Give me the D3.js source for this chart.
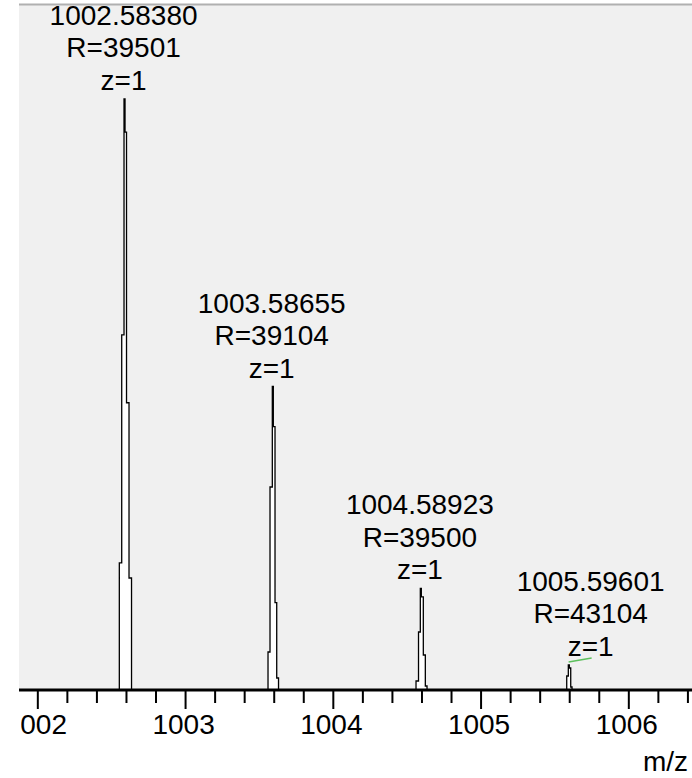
<!DOCTYPE html>
<html>
<head>
<meta charset="utf-8">
<script src="https://cdn.jsdelivr.net/npm/d3@7"></script>
<style>
  html, body { margin: 0; padding: 0; background: #ffffff; }
  svg { display: block; }
  text { font-family: "Liberation Sans", Arial, sans-serif; fill: #000; }
</style>
</head>
<body>
<svg id="chart" width="692" height="778"></svg>
<script>
// ---- data ----
// profile spectrum: m/z and relative intensity (stair-step profile points)
const profileMz = [
  1001.876,
  1002.5550, 1002.5712, 1002.5868, 1002.5936, 1002.6037, 1002.6206, 1002.6376,
  1003.5614, 1003.5749, 1003.5905, 1003.5973, 1003.6088, 1003.6203, 1003.6325,
  1004.5631, 1004.5800, 1004.5922, 1004.5990, 1004.6125, 1004.6261, 1004.6376,
  1005.5831, 1005.5939, 1005.6007, 1005.6102, 1005.6190,
  1006.431
];
const profileInt = [
  0,
  21.5, 60.1, 100, 94.4, 48.6, 18.95, 0,
  6.43, 34.35, 51.35, 44.55, 14.8, 2.03, 0,
  1.52, 9.81, 17.21, 15.74, 5.92, 0.68, 0,
  2.37, 4.23, 3.72, 0.51, 0,
  0
];
// peak annotations
const labelMz = [1002.58380, 1003.58655, 1004.58923, 1005.59601];
const labelMzText = ["1002.58380", "1003.58655", "1004.58923", "1005.59601"];
const labelRes = ["R=39501", "R=39104", "R=39500", "R=43104"];
const labelCharge = ["z=1", "z=1", "z=1", "z=1"];
// axis ticks
const majorTicks = [1002, 1003, 1004, 1005, 1006];
const minorTicks = [1002.2, 1002.4, 1002.6, 1002.8, 1003.2, 1003.4, 1003.6, 1003.8,
  1004.2, 1004.4, 1004.6, 1004.8, 1005.2, 1005.4, 1005.6, 1005.8, 1006.2, 1006.4];
const xDomain = [1001.876, 1006.431];
const yDomain = [0, 116.07];
const xTitle = "m/z";

// ---- layout ----
const W = 692, H = 778;
const plot = { left: 19, right: 692, top: 4, bottom: 690 };
const FONT = 28;
const lineGap = 32.5;
const labelNudge = { 3: 22 }; // label moved aside to avoid overlap, with connector

const svg = d3.select("#chart");

const x = d3.scaleLinear().domain(xDomain).range([plot.left, plot.right]);
const y = d3.scaleLinear().domain(yDomain).range([plot.bottom, plot.top]);

const defs = svg.append("defs");
defs.append("clipPath").attr("id", "plotClip")
  .append("rect").attr("x", plot.left).attr("y", 0)
  .attr("width", plot.right - plot.left).attr("height", plot.bottom);
defs.append("clipPath").attr("id", "axisClip")
  .append("rect").attr("x", plot.left).attr("y", 0)
  .attr("width", plot.right - plot.left).attr("height", H);
defs.append("clipPath").attr("id", "labelClip")
  .append("rect").attr("x", plot.left + 2).attr("y", 0)
  .attr("width", plot.right - plot.left - 2).attr("height", H);

// plot background
svg.append("rect")
  .attr("x", plot.left).attr("y", plot.top)
  .attr("width", plot.right - plot.left).attr("height", plot.bottom - plot.top)
  .attr("fill", "#f0f0f0");
// top border
svg.append("line")
  .attr("x1", plot.left).attr("x2", plot.right)
  .attr("y1", plot.top + 0.5).attr("y2", plot.top + 0.5)
  .attr("stroke", "#b0b0b0").attr("stroke-width", 2);

// spectrum
const pts = profileMz.map((m, i) => [m, profileInt[i]]);
const g = svg.append("g").attr("clip-path", "url(#plotClip)");
g.append("path")
  .datum(pts)
  .attr("d", d3.area().x(d => x(d[0])).y0(y(0)).y1(d => y(d[1])).curve(d3.curveStepAfter))
  .attr("fill", "#ffffff");
g.append("path")
  .datum(pts)
  .attr("d", d3.line().x(d => x(d[0])).y(d => y(d[1])).curve(d3.curveStepAfter))
  .attr("fill", "none").attr("stroke", "#000").attr("stroke-width", 1.3);

// annotations
labelMz.forEach((m, i) => {
  const near = pts.filter(p => Math.abs(p[0] - m) < 0.06);
  const apex = d3.max(near, p => p[1]);
  const px = x(m), py = y(apex);
  const lx = px + (labelNudge[i] || 0);
  const zBase = py - 9;
  const lg = svg.append("g").attr("text-anchor", "middle").style("font-size", FONT + "px");
  lg.append("text").attr("x", lx).attr("y", zBase - 2 * lineGap).text(labelMzText[i]);
  lg.append("text").attr("x", lx).attr("y", zBase - lineGap).text(labelRes[i]);
  lg.append("text").attr("x", lx).attr("y", zBase).text(labelCharge[i]);
  if (labelNudge[i]) {
    svg.append("line")
      .attr("x1", px).attr("y1", py - 3)
      .attr("x2", lx + 1).attr("y2", zBase + 2)
      .attr("stroke", "#5cc05c").attr("stroke-width", 1.5);
  }
});

// x axis
const axG = svg.append("g").attr("clip-path", "url(#axisClip)");
const minorAxis = axG.append("g")
  .attr("transform", `translate(0,${plot.bottom})`)
  .call(d3.axisBottom(x).tickValues(minorTicks).tickSize(13).tickFormat(""));
minorAxis.select(".domain").remove();
const majorAxis = axG.append("g")
  .attr("transform", `translate(0,${plot.bottom})`)
  .call(d3.axisBottom(x).tickValues(majorTicks).tickSize(19).tickFormat(""));
majorAxis.select(".domain").remove();
axG.selectAll(".tick line").attr("stroke", "#000").attr("stroke-width", 2);

// tick labels (clipped at the left plot edge, as in the reference)
svg.append("g").attr("clip-path", "url(#labelClip)")
  .selectAll("text").data(majorTicks).join("text")
  .attr("x", d => x(d) - 1.5)
  .attr("y", plot.bottom + 44)
  .attr("text-anchor", "middle")
  .style("font-size", FONT + "px")
  .text(d3.format("d"));

// axis baseline
svg.append("line")
  .attr("x1", plot.left).attr("x2", plot.right)
  .attr("y1", plot.bottom).attr("y2", plot.bottom)
  .attr("stroke", "#000").attr("stroke-width", 3);

// axis title
svg.append("text")
  .attr("x", 688).attr("y", 771)
  .attr("text-anchor", "end")
  .style("font-size", FONT + "px")
  .text(xTitle);
</script>
</body>
</html>
